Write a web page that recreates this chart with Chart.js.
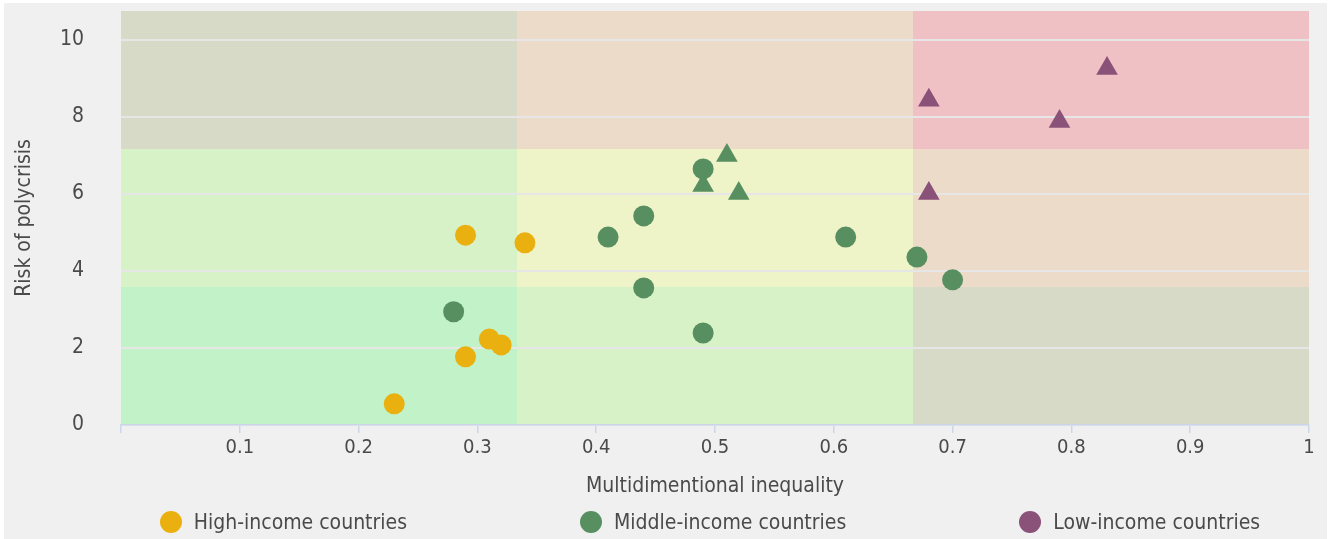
<!DOCTYPE html>
<html>
<head>
<meta charset="utf-8">
<script src="https://cdn.jsdelivr.net/npm/chart.js@4.4.1/dist/chart.umd.min.js"></script>
<style>
  html, body { margin: 0; padding: 0; background: #fff; }
  #frame {
    position: absolute; left: 4px; top: 3px; width: 1323px; height: 536px;
    background: #f0f0f0;
  }
  #wrap { position: absolute; left: 0; top: 0; width: 1329px; height: 539px; }
  #legend {
    position: absolute; left: 116px; width: 1188px; top: 508px; height: 28px;
    display: flex; justify-content: center; align-items: center; gap: 173px;
    font-family: 'Liberation Sans Narrow', 'DejaVu Sans Condensed', 'Roboto', sans-serif;
    font-size: 21px; color: #4a4a4a;
  }
  .lg-item { display: flex; align-items: center; white-space: nowrap; }
  .lg-dot { width: 22px; height: 22px; border-radius: 50%; margin-right: 12px; }
</style>
</head>
<body>
<div id="frame"></div>
<div id="wrap"><canvas id="chart" width="1329" height="539"></canvas></div>
<div id="legend"></div>
<script>
// ───── Polycrisis risk vs. multidimensional inequality ───────────────────────
// Scatter of countries grouped by income level. Circles and triangles share a
// colour per group; the plot area is split into a 3x3 grid of tinted zones.

const FONT = "'Liberation Sans Narrow', 'DejaVu Sans Condensed', 'Roboto', sans-serif";
const TEXT = '#4a4a4a';

const GROUPS = ['High-income countries', 'Middle-income countries', 'Low-income countries'];
const GROUP_COLORS = ['#eab00f', '#588f61', '#8a5179'];

// High-income (circles)
const highX = [0.29, 0.34, 0.31, 0.32, 0.29, 0.23];
const highY = [4.93, 4.73, 2.23, 2.08, 1.77, 0.55];

// Middle-income (circles)
const midX = [0.28, 0.41, 0.44, 0.44, 0.49, 0.49, 0.61, 0.67, 0.70];
const midY = [2.94, 4.88, 5.43, 3.56, 2.39, 6.65, 4.88, 4.36, 3.77];

// Middle-income (triangles)
const midTriX = [0.51, 0.49, 0.52];
const midTriY = [7.0, 6.22, 6.01];

// Low-income (triangles)
const lowTriX = [0.68, 0.79, 0.83, 0.68];
const lowTriY = [8.43, 7.88, 9.26, 6.01];

const X_TICKS = [0, 0.1, 0.2, 0.3, 0.4, 0.5, 0.6, 0.7, 0.8, 0.9, 1];
const Y_TICKS = [0, 2, 4, 6, 8, 10];
const Y_MAX = 10.75;

// Zone breaks (data units) and colours, rows listed from the bottom up.
const ZONE_X = [0, 1 / 3, 2 / 3, 1];
const ZONE_Y = [0, Y_MAX / 3, (2 * Y_MAX) / 3, Y_MAX];
const ZONE_COLORS = [
  ['#c2f2c8', '#d8f2c8', '#d8dac8'],
  ['#d8f2c8', '#eef3c8', '#eddbc9'],
  ['#d8dac8', '#eddbc9', '#efc1c4'],
];

function pts(xs, ys) {
  return xs.map((x, i) => ({ x, y: ys[i] }));
}

const zonesPlugin = {
  id: 'zones',
  beforeDraw(chart) {
    const { ctx, scales } = chart;
    const sx = scales.x, sy = scales.y;
    ctx.save();
    for (let r = 0; r < 3; r++) {
      for (let c = 0; c < 3; c++) {
        const x0 = sx.getPixelForValue(ZONE_X[c]);
        const x1 = sx.getPixelForValue(ZONE_X[c + 1]);
        const y0 = sy.getPixelForValue(ZONE_Y[r + 1]);
        const y1 = sy.getPixelForValue(ZONE_Y[r]);
        ctx.fillStyle = ZONE_COLORS[r][c];
        ctx.fillRect(x0, y0, x1 - x0, y1 - y0);
      }
    }
    ctx.restore();
  },
};

// Triangles get a higher order so they are drawn underneath the circles.
const datasets = [
  { label: GROUPS[0], data: pts(highX, highY), backgroundColor: GROUP_COLORS[0], pointStyle: 'circle', pointRadius: 10.5, order: 0 },
  { label: GROUPS[1], data: pts(midX, midY), backgroundColor: GROUP_COLORS[1], pointStyle: 'circle', pointRadius: 10.5, order: 0 },
  { label: GROUPS[1] + ' (tri)', data: pts(midTriX, midTriY), backgroundColor: GROUP_COLORS[1], pointStyle: 'triangle', pointRadius: 12.5, order: 1 },
  { label: GROUPS[2], data: pts(lowTriX, lowTriY), backgroundColor: GROUP_COLORS[2], pointStyle: 'triangle', pointRadius: 12.5, order: 1 },
].map((d) => Object.assign(d, { borderWidth: 0, pointHoverRadius: d.pointRadius }));

new Chart(document.getElementById('chart'), {
  type: 'scatter',
  data: { datasets },
  plugins: [zonesPlugin],
  options: {
    responsive: false,
    animation: false,
    layout: { autoPadding: false, padding: { left: 0, right: 20, top: 11, bottom: 36 } },
    plugins: { legend: { display: false }, tooltip: { enabled: false } },
    scales: {
      x: {
        type: 'linear', min: 0, max: 1,
        afterBuildTicks: (s) => { s.ticks = X_TICKS.map((v) => ({ value: v })); },
        afterFit: (s) => { s.height = 78; },
        border: { display: true, color: '#ccd6eb', width: 1.5 },
        grid: { drawOnChartArea: false, drawTicks: true, tickLength: 8, color: '#ccd6eb', lineWidth: 1.5 },
        ticks: {
          padding: 3, color: TEXT, font: { family: FONT, size: 20 }, maxRotation: 0,
          callback: (v) => (v === 0 ? '' : String(Math.round(v * 10) / 10)),
        },
        title: { display: true, text: 'Multidimentional inequality', color: TEXT, font: { family: FONT, size: 21 }, padding: { top: 0, bottom: 4 } },
      },
      y: {
        type: 'linear', min: 0, max: Y_MAX,
        afterBuildTicks: (s) => { s.ticks = Y_TICKS.map((v) => ({ value: v })); },
        afterFit: (s) => { s.width = 121; },
        border: { display: false },
        // invisible tick marks push the labels away from the plot
        grid: { color: '#e6e6e6', lineWidth: 2, drawTicks: true, tickLength: 37, tickColor: 'rgba(0,0,0,0)' },
        ticks: { padding: 0, color: TEXT, font: { family: FONT, size: 21, lineHeight: 1.0 } },
        title: { display: true, text: 'Risk of polycrisis', color: TEXT, font: { family: FONT, size: 21 }, padding: { top: 12, bottom: 0 } },
      },
    },
  },
});

// HTML legend: one circle marker per income group.
const legend = document.getElementById('legend');
GROUPS.forEach((name, i) => {
  const item = document.createElement('div');
  item.className = 'lg-item';
  item.innerHTML = `<span class="lg-dot" style="background:${GROUP_COLORS[i]}"></span><span>${name}</span>`;
  legend.appendChild(item);
});
</script>
</body>
</html>
